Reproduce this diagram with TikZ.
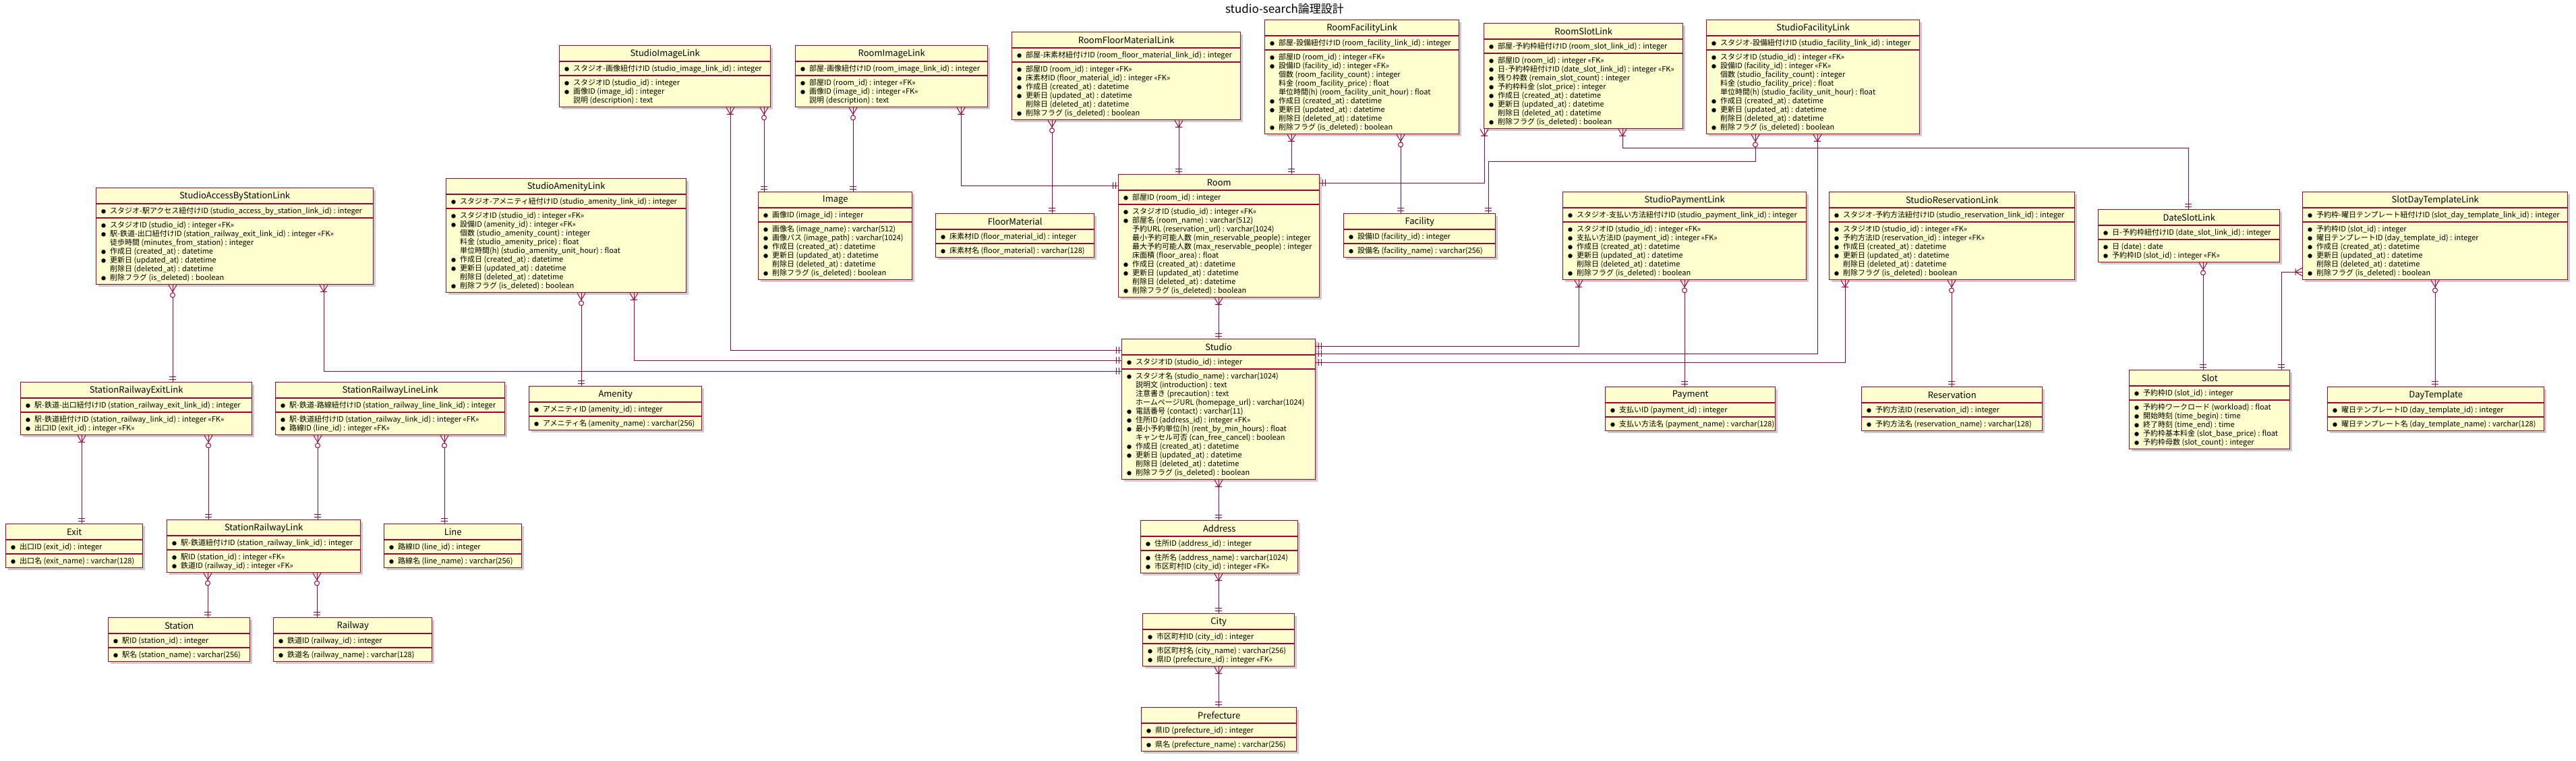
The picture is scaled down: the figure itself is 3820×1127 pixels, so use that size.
\documentclass[tikz,border=0pt]{standalone}
\usepackage{fontspec}
\setmainfont{Noto Sans CJK JP}
\usetikzlibrary{calc}
\definecolor{pr}{HTML}{A80036}
\definecolor{pf}{HTML}{FEFECE}
\newcommand{\kb}{\makebox[13pt][l]{\fontsize{7pt}{7pt}\selectfont ●}}
\newcommand{\kn}{\makebox[13pt][l]{}}
\newcommand{\tcr}{\kb 作成日 (created\_at) : datetime}
\newcommand{\tup}{\kb 更新日 (updated\_at) : datetime}
\newcommand{\tdel}{\kn 削除日 (deleted\_at) : datetime}
\newcommand{\tisd}{\kb 削除フラグ (is\_deleted) : boolean}
\newcommand{\ttail}{\tcr\\ \tup\\ \tdel\\ \tisd}
\tikzset{
  ebox/.style={draw=pr, fill=pf, line width=1.4pt, rectangle, inner sep=0pt},
  esep/.style={draw=pr, line width=1.2pt},
  etitle/.style={font=\fontsize{13pt}{15pt}\selectfont, inner sep=0pt},
  etext/.style={font=\fontsize{11pt}{13pt}\selectfont, align=left, inner sep=0pt, anchor=north west},
  cl/.style={draw=pr, line width=1pt},
  shad/.style={fill=black!20},
  pics/mone/.style={code={\draw[cl] (-5,4)--(5,4) (-5,8)--(5,8);}},
  pics/mom/.style={code={\draw[cl] (-6,0)--(0,10)--(6,0) (-5,10)--(5,10);}},
  pics/mzm/.style={code={\draw[cl] (-6,0)--(0,10)--(6,0); \draw[cl,fill=white] (0,15) circle (3.5);}},
}
\newcommand{\ERent}[8]{%
  \fill[shad] (#2+4,#3+4) rectangle (#4+4,#5+4);
  \node[ebox, anchor=north west, minimum width=#4-#2, minimum height=#5-#3] (#1) at (#2,#3) {};
  \node[etitle] (#1-t) at ($(#1.north)+(0,12.5)$) {#6};
  \draw[esep] ($(#1.north west)+(0,24)$) -- ($(#1.north east)+(0,24)$);
  \node[etext] (#1-k) at ($(#1.north west)+(8,29)$) {#7};
  \draw[esep] ($(#1.north west)+(0,45)$) -- ($(#1.north east)+(0,45)$);
  \node[etext] (#1-a) at ($(#1.north west)+(8,50)$) {#8};
}
\newcommand{\lkV}[4]{%
  \draw[cl] (#1.south -| #3,0) -- (#2.north -| #3,0);
  \path (#1.south -| #3,0) pic {#4};
  \path (#2.north -| #3,0) pic[rotate=180] {mone};
}
\newcommand{\lkW}[5]{%
  \draw[cl] (#1.south -| #2,0) |- (#4.west |- 0,#5);
  \path (#1.south -| #2,0) pic {#3};
  \path (#4.west |- 0,#5) pic[rotate=-90] {mone};
}
\newcommand{\lkE}[5]{%
  \draw[cl] (#1.south -| #2,0) |- (#4.east |- 0,#5);
  \path (#1.south -| #2,0) pic {#3};
  \path (#4.east |- 0,#5) pic[rotate=90] {mone};
}
\begin{document}
\begin{tikzpicture}[x=1pt,y=-1pt]
\useasboundingbox (0,0) rectangle (3820,1127);
\fill[white] (0,0) rectangle (3820,1127);
\node[inner sep=0pt, font=\fontsize{17pt}{20pt}\selectfont] (title) at (1905,13) {studio-search論理設計};

\ERent{sil}{829}{67}{1142}{158}{StudioImageLink}
 {\kb スタジオ-画像紐付けID (studio\_image\_link\_id) : integer}
 {\kb スタジオID (studio\_id) : integer\\ \kb 画像ID (image\_id) : integer\\ \kn 説明 (description) : text}
\ERent{ril}{1179}{67}{1464}{158}{RoomImageLink}
 {\kb 部屋-画像紐付けID (room\_image\_link\_id) : integer}
 {\kb 部屋ID (room\_id) : integer «FK»\\ \kb 画像ID (image\_id) : integer «FK»\\ \kn 説明 (description) : text}
\ERent{rfml}{1500}{47}{1839}{177}{RoomFloorMaterialLink}
 {\kb 部屋-床素材紐付けID (room\_floor\_material\_link\_id) : integer}
 {\kb 部屋ID (room\_id) : integer «FK»\\ \kb 床素材ID (floor\_material\_id) : integer «FK»\\ \ttail}
\ERent{rfl}{1875}{29}{2163}{198}{RoomFacilityLink}
 {\kb 部屋-設備紐付けID (room\_facility\_link\_id) : integer}
 {\kb 部屋ID (room\_id) : integer «FK»\\ \kb 設備ID (facility\_id) : integer «FK»\\ \kn 個数 (room\_facility\_count) : integer\\ \kn 料金 (room\_facility\_price) : float\\ \kn 単位時間(h) (room\_facility\_unit\_hour) : float\\ \ttail}
\ERent{rsl}{2200}{34}{2495}{190}{RoomSlotLink}
 {\kb 部屋-予約枠紐付けID (room\_slot\_link\_id) : integer}
 {\kb 部屋ID (room\_id) : integer «FK»\\ \kb 日-予約枠紐付けID (date\_slot\_link\_id) : integer «FK»\\ \kb 残り枠数 (remain\_slot\_count) : integer\\ \kb 予約枠料金 (slot\_price) : integer\\ \ttail}
\ERent{sfl}{2530}{29}{2846}{198}{StudioFacilityLink}
 {\kb スタジオ-設備紐付けID (studio\_facility\_link\_id) : integer}
 {\kb スタジオID (studio\_id) : integer «FK»\\ \kb 設備ID (facility\_id) : integer «FK»\\ \kn 個数 (studio\_facility\_count) : integer\\ \kn 料金 (studio\_facility\_price) : float\\ \kn 単位時間(h) (studio\_facility\_unit\_hour) : float\\ \ttail}
\ERent{img}{1124}{284}{1352}{414}{Image}
 {\kb 画像ID (image\_id) : integer}
 {\kb 画像名 (image\_name) : varchar(512)\\ \kb 画像パス (image\_path) : varchar(1024)\\ \ttail}
\ERent{fm}{1387}{316}{1622}{381}{FloorMaterial}
 {\kb 床素材ID (floor\_material\_id) : integer}
 {\kb 床素材名 (floor\_material) : varchar(128)}
\ERent{room}{1658}{258}{1956}{440}{Room}
 {\kb 部屋ID (room\_id) : integer}
 {\kb スタジオID (studio\_id) : integer «FK»\\ \kb 部屋名 (room\_name) : varchar(512)\\ \kn 予約URL (reservation\_url) : varchar(1024)\\ \kn 最小予約可能人数 (min\_reservable\_people) : integer\\ \kn 最大予約可能人数 (max\_reservable\_people) : integer\\ \kn 床面積 (floor\_area) : float\\ \ttail}
\ERent{fac}{1992}{316}{2217}{381}{Facility}
 {\kb 設備ID (facility\_id) : integer}
 {\kb 設備名 (facility\_name) : varchar(256)}
\ERent{sabs}{142}{278}{553}{421}{StudioAccessByStationLink}
 {\kb スタジオ-駅アクセス紐付けID (studio\_access\_by\_station\_link\_id) : integer}
 {\kb スタジオID (studio\_id) : integer «FK»\\ \kb 駅-鉄道-出口紐付けID (station\_railway\_exit\_link\_id) : integer «FK»\\ \kn 徒歩時間 (minutes\_from\_station) : integer\\ \ttail}
\ERent{sal}{661}{264}{1017}{433}{StudioAmenityLink}
 {\kb スタジオ-アメニティ紐付けID (studio\_amenity\_link\_id) : integer}
 {\kb スタジオID (studio\_id) : integer «FK»\\ \kb 設備ID (amenity\_id) : integer «FK»\\ \kn 個数 (studio\_amenity\_count) : integer\\ \kn 料金 (studio\_amenity\_price) : float\\ \kn 単位時間(h) (studio\_amenity\_unit\_hour) : float\\ \ttail}
\ERent{spl}{2317}{284}{2678}{414}{StudioPaymentLink}
 {\kb スタジオ-支払い方法紐付けID (studio\_payment\_link\_id) : integer}
 {\kb スタジオID (studio\_id) : integer «FK»\\ \kb 支払い方法ID (payment\_id) : integer «FK»\\ \ttail}
\ERent{srsv}{2712}{284}{3076}{414}{StudioReservationLink}
 {\kb スタジオ-予約方法紐付けID (studio\_reservation\_link\_id) : integer}
 {\kb スタジオID (studio\_id) : integer «FK»\\ \kb 予約方法ID (reservation\_id) : integer «FK»\\ \ttail}
\ERent{dsl}{3111}{310}{3380}{388}{DateSlotLink}
 {\kb 日-予約枠紐付けID (date\_slot\_link\_id) : integer}
 {\kb 日 (date) : date\\ \kb 予約枠ID (slot\_id) : integer «FK»}
\ERent{sdtl}{3414}{284}{3807}{414}{SlotDayTemplateLink}
 {\kb 予約枠-曜日テンプレート紐付けID (slot\_day\_template\_link\_id) : integer}
 {\kb 予約枠ID (slot\_id) : integer\\ \kb 曜日テンプレートID (day\_template\_id) : integer\\ \ttail}
\ERent{srel}{30}{566}{373}{644}{StationRailwayExitLink}
 {\kb 駅-鉄道-出口紐付けID (station\_railway\_exit\_link\_id) : integer}
 {\kb 駅-鉄道紐付けID (station\_railway\_link\_id) : integer «FK»\\ \kb 出口ID (exit\_id) : integer «FK»}
\ERent{srll}{408}{566}{748}{644}{StationRailwayLineLink}
 {\kb 駅-鉄道-路線紐付けID (station\_railway\_line\_link\_id) : integer}
 {\kb 駅-鉄道紐付けID (station\_railway\_link\_id) : integer «FK»\\ \kb 路線ID (line\_id) : integer «FK»}
\ERent{amen}{784}{572}{1040}{637}{Amenity}
 {\kb アメニティID (amenity\_id) : integer}
 {\kb アメニティ名 (amenity\_name) : varchar(256)}
\ERent{studio}{1663}{502}{1950}{710}{Studio}
 {\kb スタジオID (studio\_id) : integer}
 {\kb スタジオ名 (studio\_name) : varchar(1024)\\ \kn 説明文 (introduction) : text\\ \kn 注意書き (precaution) : text\\ \kn ホームページURL (homepage\_url) : varchar(1024)\\ \kb 電話番号 (contact) : varchar(11)\\ \kb 住所ID (address\_id) : integer «FK»\\ \kb 最小予約単位(h) (rent\_by\_min\_hours) : float\\ \kn キャンセル可否 (can\_free\_cancel) : boolean\\ \ttail}
\ERent{pay}{2380}{573}{2632}{638}{Payment}
 {\kb 支払いID (payment\_id) : integer}
 {\kb 支払い方法名 (payment\_name) : varchar(128)}
\ERent{resv}{2760}{573}{3028}{638}{Reservation}
 {\kb 予約方法ID (reservation\_id) : integer}
 {\kb 予約方法名 (reservation\_name) : varchar(128)}
\ERent{slot}{3157}{548}{3395}{665}{Slot}
 {\kb 予約枠ID (slot\_id) : integer}
 {\kb 予約枠ワークロード (workload) : float\\ \kb 開始時刻 (time\_begin) : time\\ \kb 終了時刻 (time\_end) : time\\ \kb 予約枠基本料金 (slot\_base\_price) : float\\ \kb 予約枠母数 (slot\_count) : integer}
\ERent{dtpl}{3451}{573}{3772}{638}{DayTemplate}
 {\kb 曜日テンプレートID (day\_template\_id) : integer}
 {\kb 曜日テンプレート名 (day\_template\_name) : varchar(128)}
\ERent{exit}{8}{776}{211}{841}{Exit}
 {\kb 出口ID (exit\_id) : integer}
 {\kb 出口名 (exit\_name) : varchar(128)}
\ERent{srl}{247}{770}{534}{848}{StationRailwayLink}
 {\kb 駅-鉄道紐付けID (station\_railway\_link\_id) : integer}
 {\kb 駅ID (station\_id) : integer «FK»\\ \kb 鉄道ID (railway\_id) : integer «FK»}
\ERent{lin}{569}{776}{773}{841}{Line}
 {\kb 路線ID (line\_id) : integer}
 {\kb 路線名 (line\_name) : varchar(256)}
\ERent{addr}{1691}{771}{1924}{849}{Address}
 {\kb 住所ID (address\_id) : integer}
 {\kb 住所名 (address\_name) : varchar(1024)\\ \kb 市区町村ID (city\_id) : integer «FK»}
\ERent{city}{1694}{909}{1919}{987}{City}
 {\kb 市区町村ID (city\_id) : integer}
 {\kb 市区町村名 (city\_name) : varchar(256)\\ \kb 県ID (prefecture\_id) : integer «FK»}
\ERent{pref}{1692}{1048}{1922}{1113}{Prefecture}
 {\kb 県ID (prefecture\_id) : integer}
 {\kb 県名 (prefecture\_name) : varchar(256)}
\ERent{stat}{160}{915}{370}{980}{Station}
 {\kb 駅ID (station\_id) : integer}
 {\kb 駅名 (station\_name) : varchar(256)}
\ERent{rail}{405}{915}{640}{980}{Railway}
 {\kb 鉄道ID (railway\_id) : integer}
 {\kb 鉄道名 (railway\_name) : varchar(128)}

% connectors
\lkV{sil}{img}{1133}{mzm}
\lkV{ril}{img}{1265}{mzm}
\lkW{sil}{1083}{mom}{studio}{519}
\lkW{ril}{1425}{mom}{room}{275}
\lkV{rfml}{fm}{1560}{mzm}
\lkV{rfml}{room}{1748}{mom}
\lkV{rfl}{room}{1915}{mom}
\lkV{rfl}{fac}{2077}{mzm}
\lkE{rsl}{2201}{mom}{room}{271}
\draw[cl] (rsl.south -| 2406,0) -- ++(0,28) -| (dsl.north -| 3245,0);
\path (rsl.south -| 2406,0) pic {mom};
\path (dsl.north -| 3245,0) pic[rotate=180] {mone};
\draw[cl] (sfl.south -| 2603,0) -- ++(0,40) -| (fac.north -| 2207,0);
\path (sfl.south -| 2603,0) pic {mzm};
\path (fac.north -| 2207,0) pic[rotate=180] {mone};
\lkE{sfl}{2695}{mom}{studio}{524}
\lkE{spl}{2341}{mom}{studio}{513}
\lkV{spl}{pay}{2498}{mzm}
\lkE{srsv}{2736}{mom}{studio}{537}
\lkV{srsv}{resv}{2894}{mzm}
\lkV{dsl}{slot}{3267}{mzm}
\draw[cl] (sdtl.west |- 0,403) -| (slot.north -| 3383,0);
\path (sdtl.west |- 0,403) pic[rotate=-90] {mom};
\path (slot.north -| 3383,0) pic[rotate=180] {mone};
\lkV{sdtl}{dtpl}{3611}{mzm}
\lkV{room}{studio}{1807}{mom}
\lkV{studio}{addr}{1807}{mom}
\lkV{addr}{city}{1807}{mom}
\lkV{city}{pref}{1807}{mom}
\lkV{sabs}{srel}{256}{mzm}
\lkW{sabs}{480}{mom}{studio}{550}
\lkV{sal}{amen}{862}{mzm}
\lkW{sal}{940}{mom}{studio}{534}
\lkV{srel}{exit}{121}{mom}
\lkV{srel}{srl}{309}{mzm}
\lkV{srll}{srl}{471}{mzm}
\lkV{srll}{lin}{659}{mzm}
\lkV{srl}{stat}{308}{mzm}
\lkV{srl}{rail}{470}{mzm}
\end{tikzpicture}
\end{document}
